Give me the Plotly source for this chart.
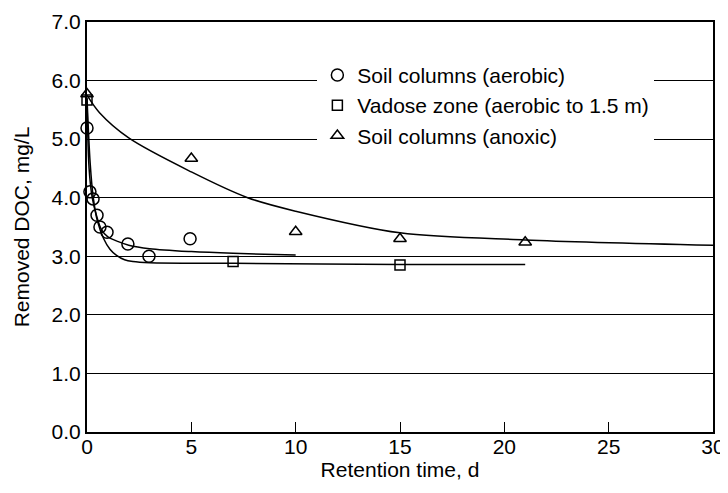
import plotly.graph_objects as go

# Measured points
aer_x = [0.0, 0.14, 0.29, 0.48, 0.62, 0.96, 1.96, 2.97, 4.94]
aer_y = [5.19, 4.10, 3.98, 3.70, 3.50, 3.41, 3.21, 3.00, 3.30]

vad_x = [0.0, 7.0, 15.0]
vad_y = [5.67, 2.91, 2.85]

anx_x = [0.0, 5.0, 10.0, 15.0, 21.0]
anx_y = [5.77, 4.67, 3.42, 3.30, 3.24]

# Fitted curves
aer_fit_x = [0.0, 0.1, 0.25, 0.45, 0.7, 1.0, 1.5, 2.0, 3.0, 5.0, 7.0, 10.0]
aer_fit_y = [5.70, 4.50, 4.00, 3.70, 3.45, 3.33, 3.25, 3.19, 3.13, 3.08, 3.05, 3.02]

vad_fit_x = [0.0, 0.15, 0.3, 0.5, 0.8, 1.1, 1.4, 1.8, 2.2, 3.0, 7.0, 15.0, 21.0]
vad_fit_y = [5.70, 4.60, 4.00, 3.60, 3.30, 3.12, 3.02, 2.94, 2.91, 2.89, 2.88, 2.86, 2.86]

anx_fit_x = [0.0, 0.6, 2.0, 5.0, 7.7, 10.0, 15.0, 21.0, 30.0]
anx_fit_y = [5.75, 5.45, 5.02, 4.44, 4.00, 3.77, 3.40, 3.28, 3.19]

x_ticks = [0, 5, 10, 15, 20, 25, 30]
y_ticks = [0, 1, 2, 3, 4, 5, 6, 7]
y_tick_labels = ["0.0", "1.0", "2.0", "3.0", "4.0", "5.0", "6.0", "7.0"]

FONT = "Liberation Sans, Arial, Helvetica, sans-serif"
FS = 21

fig = go.Figure()

for fx, fy in [(aer_fit_x, aer_fit_y), (vad_fit_x, vad_fit_y), (anx_fit_x, anx_fit_y)]:
    fig.add_trace(go.Scatter(x=fx, y=fy, mode="lines",
                             line=dict(color="black", width=1.5, shape="spline", smoothing=0.9),
                             showlegend=False, hoverinfo="skip", cliponaxis=False))

fig.add_trace(go.Scatter(x=aer_x, y=aer_y, mode="markers", name="Soil columns (aerobic)",
                         marker=dict(symbol="circle-open", size=12, color="black", line=dict(width=1.5)),
                         cliponaxis=False))
fig.add_trace(go.Scatter(x=vad_x, y=vad_y, mode="markers", name="Vadose zone (aerobic to 1.5 m)",
                         marker=dict(symbol="square-open", size=10, color="black", line=dict(width=1.5)),
                         cliponaxis=False))
fig.add_trace(go.Scatter(x=anx_x, y=anx_y, mode="markers", name="Soil columns (anoxic)",
                         marker=dict(symbol="triangle-up-open", size=11, color="black", line=dict(width=1.5)),
                         cliponaxis=False))

# The page body adds an 8px offset; the figure is sized to fit inside the window.
fig.update_layout(
    width=718, height=483,
    margin=dict(l=79, r=13, t=14, b=59),
    paper_bgcolor="white", plot_bgcolor="white",
    font=dict(family=FONT, size=FS, color="black"),
    showlegend=True,
    legend=dict(x=0.368, y=0.92, xanchor="left", yanchor="top", bgcolor="white",
                borderwidth=0, font=dict(size=FS, family=FONT), itemwidth=30,
                tracegroupgap=0),
    xaxis=dict(range=[0, 30], tickvals=x_ticks, ticks="inside", ticklen=10, tickwidth=1,
               tickcolor="black", showline=True, linecolor="black", linewidth=2, mirror=True,
               showgrid=False, zeroline=False, automargin=False, ticklabelstandoff=-5,
               title=dict(text="Retention time, d", font=dict(size=FS), standoff=4),
               tickfont=dict(size=FS)),
    yaxis=dict(range=[0, 7], tickvals=y_ticks, ticktext=y_tick_labels, ticks="",
               showline=True, linecolor="black", linewidth=2, mirror=True,
               showgrid=True, gridcolor="black", gridwidth=1, zeroline=False, automargin=False,
               title=dict(text="Removed DOC, mg/L", font=dict(size=FS), standoff=16),
               tickfont=dict(size=FS)),
)

fig.write_html("out.html")
